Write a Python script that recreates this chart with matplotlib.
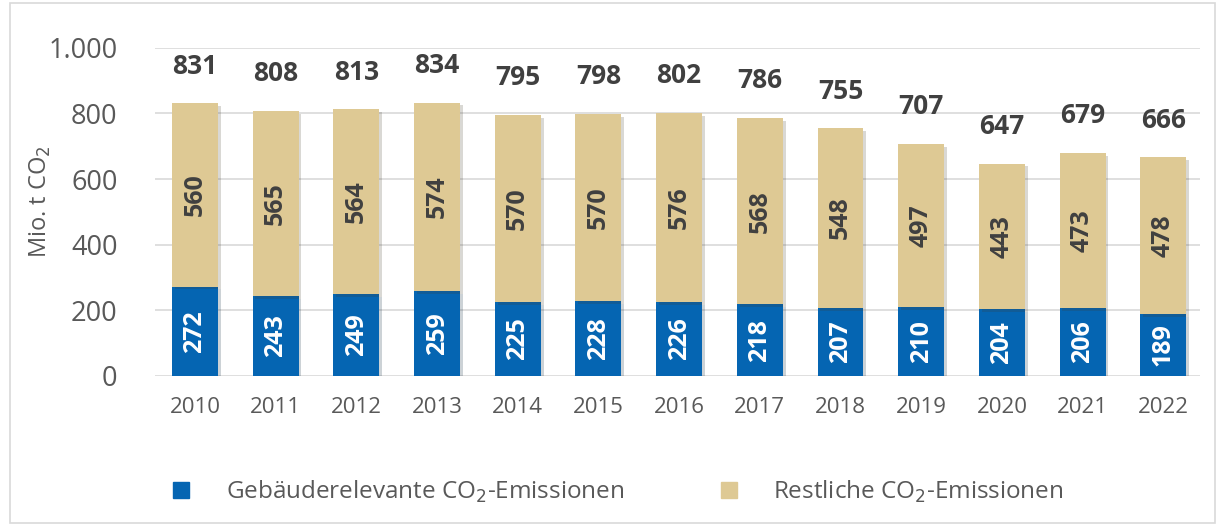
import matplotlib.pyplot as plt
import matplotlib.patheffects as pe
from matplotlib.patches import Rectangle, Patch
import numpy as np

plt.rcParams["font.family"] = ["Open Sans", "DejaVu Sans"]

years = ["2010", "2011", "2012", "2013", "2014", "2015", "2016",
         "2017", "2018", "2019", "2020", "2021", "2022"]
gebaeude = [272, 243, 249, 259, 225, 228, 226, 218, 207, 210, 204, 206, 189]
restliche = [560, 565, 564, 574, 570, 570, 576, 568, 548, 497, 443, 473, 478]
gesamt = [831, 808, 813, 834, 795, 798, 802, 786, 755, 707, 647, 679, 666]

blau = "#0565b2"
beige = "#dec994"
grau = "#595959"

fig = plt.figure(figsize=(12.25, 5.25), dpi=100)
ax = fig.add_axes([0.1265, 0.284, 0.853, 0.625])

x = np.arange(len(years))
w = 0.57
schatten = [pe.SimplePatchShadow(offset=(2, -2), alpha=0.2), pe.Normal()]
ax.bar(x, gebaeude, w, color=blau, zorder=3, path_effects=schatten)
ax.bar(x, restliche, w, bottom=gebaeude, color=beige, zorder=3, path_effects=schatten)

for i in range(len(years)):
    ax.text(x[i], gebaeude[i] / 2, str(gebaeude[i]), rotation=90, ha="center",
            va="center", color="white", fontsize=18, fontweight="bold", zorder=4)
    ax.text(x[i], gebaeude[i] + restliche[i] / 2, str(restliche[i]), rotation=90,
            ha="center", va="center", color="#404040", fontsize=18,
            fontweight="bold", zorder=4)
    ax.annotate(str(gesamt[i]), (x[i], gesamt[i]), xytext=(0, 17),
                textcoords="offset points", ha="center", va="bottom",
                color="#404040", fontsize=19, fontweight="bold")

ax.set_ylim(0, 1000)
ax.set_xlim(-0.496, 12.454)
ax.set_yticks(range(0, 1001, 200))
ax.set_yticklabels(["0", "200", "400", "600", "800", "1.000"])
ax.set_xticks(x)
ax.set_xticklabels(years)
ax.tick_params(axis="y", length=0, labelsize=19.5, labelcolor=grau, pad=27)
ax.tick_params(axis="x", length=0, labelsize=16, labelcolor=grau, pad=15)
ax.grid(axis="y", color="#d9d9d9", linewidth=1.2, zorder=0)
ax.set_axisbelow(True)
for s in ax.spines.values():
    s.set_visible(False)
ax.set_ylabel("Mio. t CO$_2$", fontsize=17, color=grau)
ax.yaxis.set_label_coords(-0.098, 0.53)

handles = [Patch(color=blau, label="Gebäuderelevante CO$_2$-Emissionen"),
           Patch(color=beige, label="Restliche CO$_2$-Emissionen")]
fig.legend(handles=handles, loc="center", bbox_to_anchor=(0.505, 0.063), ncol=2,
           frameon=False, fontsize=17.5, labelcolor=grau, handlelength=0.65,
           handleheight=0.65, columnspacing=4.0, handletextpad=1.5)

fig.add_artist(Rectangle((0.008, 0.004), 0.984, 0.99, transform=fig.transFigure,
                         fill=False, edgecolor="#d9d9d9", linewidth=1.2))

fig.savefig("out.png", dpi=100)
